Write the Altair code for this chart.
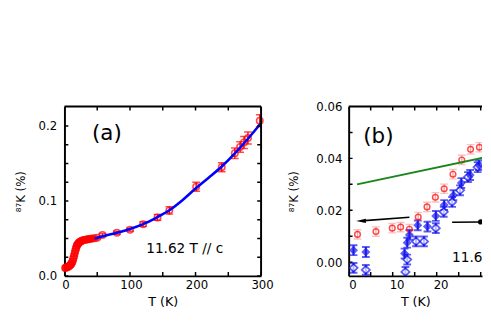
import altair as alt
import pandas as pd

FONT = "DejaVu Sans"
RED = "#ff0000"
PINK = "#f4a8a8"
BLUE = "#0000ff"
BLUE_B = "#1a1aee"
GREEN = "#1a861a"

# ---------------- panel (a) data ----------------
a_T_low = [1, 2, 3, 4, 5, 6, 7, 8, 9, 10, 11, 12, 13, 14, 15, 16, 17, 18, 19, 20,
           21, 22, 23, 24, 25, 26, 28, 30, 32, 34, 36, 38, 40, 43, 46, 50]
a_K_low = [0.0105, 0.011, 0.0113, 0.0117, 0.012, 0.0125, 0.013, 0.0137, 0.0145, 0.0155,
           0.017, 0.019, 0.0215, 0.0245, 0.028, 0.0315, 0.035, 0.038, 0.0405, 0.042,
           0.0432, 0.0441, 0.0448, 0.0455, 0.0462, 0.0467, 0.0474, 0.0478, 0.0482, 0.0485,
           0.0488, 0.0491, 0.0494, 0.0498, 0.0502, 0.0508]
a_err_low = [0.0015] * len(a_T_low)

a_T_high = [58, 80, 100, 120, 142, 160, 201, 240, 260, 268, 274, 280, 298]
a_K_high = [0.0545, 0.0575, 0.0615, 0.069, 0.078, 0.0874, 0.119, 0.145, 0.1636, 0.172,
            0.178, 0.184, 0.207]
a_err_high = [0.002, 0.002, 0.002, 0.003, 0.004, 0.005, 0.006, 0.006, 0.007, 0.007,
              0.008, 0.008, 0.008]

a_fit_T = [46, 60, 80, 100, 120, 140, 160, 180, 200, 220, 240, 260, 280, 300]
a_fit_K = [0.0497, 0.0533, 0.0575, 0.0625, 0.069, 0.0775, 0.0875, 0.101, 0.1165, 0.131,
           0.146, 0.1635, 0.183, 0.204]

a_x_ticks = [0, 50, 100, 150, 200, 250, 300]
a_y_ticks = [0.0, 0.025, 0.05, 0.075, 0.1, 0.125, 0.15, 0.175, 0.2]
a_x_labels = [0, 100, 200, 300]
a_y_labels = [0.0, 0.1, 0.2]

# ---------------- panel (b) data ----------------
b_red_T = [2.0, 6.2, 9.9, 11.8, 13.8, 15.8, 17.8, 19.7, 21.7, 23.7, 25.7, 27.7, 29.7]
b_red_K = [0.0107, 0.0118, 0.0131, 0.0135, 0.0127, 0.0174, 0.0213, 0.025, 0.0283,
           0.0339, 0.0394, 0.0435, 0.0443]
b_red_err = [0.0018] * len(b_red_T)

b_fill_T = [1.1, 3.9, 12.7, 13.3, 13.8, 15.7, 17.9, 19.8, 21.7, 23.8, 25.6, 27.6, 29.6]
b_fill_K = [0.0046, 0.0039, 0.0033, 0.0075, 0.0105, 0.0142, 0.0137, 0.0178, 0.022,
            0.0258, 0.0305, 0.0336, 0.0374]
b_fill_err = [0.0019] * len(b_fill_T)

b_open_T = [1.1, 3.9, 12.9, 13.3, 15.3, 17.1, 19.8, 21.6, 23.5, 25.3, 27.1, 29.3]
b_open_K = [-0.0022, -0.003, -0.0038, 0.001, 0.008, 0.008, 0.0131, 0.0194, 0.0232,
            0.0277, 0.0328, 0.0366]
b_open_err = [0.0019] * len(b_open_T)

b_green_T = [1.9, 30.6]
b_green_K = [0.0300, 0.0403]

b_arrowL_T = [13.8, 2.8]
b_arrowL_K = [0.0173, 0.0159]
b_arrowR_T = [23.5, 30.0]
b_arrowR_K = [0.0154, 0.0155]

b_x_ticks = [0, 5, 10, 15, 20, 25, 30]
b_y_ticks = [0.0, 0.01, 0.02, 0.03, 0.04, 0.05]
b_x_labels = [0, 10, 20]
b_y_labels = [0.0, 0.02, 0.04, 0.06]

FIELD_LABEL = "11.62 T // c"

W_A, W_B, H = 202, 137, 174
TL = 4  # inward tick length


def x_axis(values, loff):
    return alt.Axis(values=values, format="d", title="T (K)", ticks=False, grid=False,
                    domain=True, domainColor="black", domainWidth=2, labelPadding=4,
                    labelFlush=False, labelOffset=loff,
                    labelFontSize=12, titleFontSize=13, titlePadding=5,
                    labelColor="black", titleColor="black", titleFontWeight="normal",
                    labelFont=FONT, titleFont=FONT)


def y_axis(values, fmt, tpad, lpad):
    return alt.Axis(values=values, format=fmt, title="⁸⁷K (%)", ticks=False, grid=False,
                    domain=True, domainColor="black", domainWidth=2, labelPadding=lpad,
                    labelFlush=False,
                    labelFontSize=12, titleFontSize=12, titlePadding=tpad,
                    labelColor="black", titleColor="black", titleFontWeight="normal",
                    labelFont=FONT, titleFont=FONT)


class Pan:
    def __init__(self, xs, ys, xax, yax):
        self.xs, self.ys, self.xax, self.yax = xs, ys, xax, yax

    def X(self, f):
        return alt.X(f, scale=self.xs, axis=self.xax)

    def Y(self, f):
        return alt.Y(f, scale=self.ys, axis=self.yax)


def frame_layers(p, xvals, yvals, W, right_side):
    layers = []
    tx = pd.DataFrame({"v": xvals})
    ty = pd.DataFrame({"v": yvals})
    rule = dict(color="black", strokeWidth=1.5, clip=True)
    layers.append(alt.Chart(tx).mark_rule(**rule).encode(
        x=p.X("v:Q"), y=alt.value(H), y2=alt.value(H - TL)))
    layers.append(alt.Chart(tx).mark_rule(**rule).encode(
        x=p.X("v:Q"), y=alt.value(0), y2=alt.value(TL)))
    layers.append(alt.Chart(ty).mark_rule(**rule).encode(
        y=p.Y("v:Q"), x=alt.value(0), x2=alt.value(TL)))
    layers.append(alt.Chart(tx.head(1)).mark_rule(color="black", strokeWidth=2).encode(
        x=alt.value(0), x2=alt.value(W), y=alt.value(0)))
    if right_side:
        layers.append(alt.Chart(ty).mark_rule(**rule).encode(
            y=p.Y("v:Q"), x=alt.value(W), x2=alt.value(W - TL)))
        layers.append(alt.Chart(tx.head(1)).mark_rule(color="black", strokeWidth=2).encode(
            x=alt.value(W), y=alt.value(0), y2=alt.value(H)))
    return layers


def err_layers(p, T, K, E, color, cap, width=1.4):
    df = pd.DataFrame({"T": T, "lo": [k - e for k, e in zip(K, E)],
                       "hi": [k + e for k, e in zip(K, E)]})
    caps = pd.DataFrame({"T": list(T) * 2, "c": list(df["lo"]) + list(df["hi"])})
    bars = alt.Chart(df).mark_rule(color=color, strokeWidth=width, clip=True).encode(
        x=p.X("T:Q"), y=p.Y("lo:Q"), y2="hi:Q")
    tk = alt.Chart(caps).mark_tick(orient="horizontal", size=cap, thickness=width,
                                   color=color, clip=True).encode(
        x=p.X("T:Q"), y=p.Y("c:Q"))
    return [bars, tk]


def text_layer(p, x, y, t, size, clip=False):
    return alt.Chart(pd.DataFrame({"T": [x], "K": [y], "t": [t]})).mark_text(
        align="left", baseline="middle", fontSize=size, font=FONT, color="black",
        clip=clip).encode(x=p.X("T:Q"), y=p.Y("K:Q"), text="t:N")


def lin(domain):
    return alt.Scale(domain=domain, nice=False, zero=False, padding=0)


# ---------------- panel (a) ----------------
pa = Pan(lin([0, 300]), lin([0, 0.226]),
         x_axis(a_x_labels, 1), y_axis(a_y_labels, ".1f", 11, 8))

a_T = a_T_low + a_T_high
a_K = a_K_low + a_K_high
a_E = a_err_low + a_err_high

a_pts = alt.Chart(pd.DataFrame({"T": a_T, "K": a_K})).mark_point(
    shape="circle", filled=False, color=RED, size=44, strokeWidth=1.6).encode(
    x=pa.X("T:Q"), y=pa.Y("K:Q"))

a_fit = alt.Chart(pd.DataFrame({"T": a_fit_T, "K": a_fit_K})).mark_line(
    color=BLUE, strokeWidth=2.6, interpolate="monotone").encode(
    x=pa.X("T:Q"), y=pa.Y("K:Q"))

panel_a = alt.layer(
    a_pts,
    *err_layers(pa, a_T, a_K, a_E, RED, 8),
    a_fit,
    text_layer(pa, 42, 0.191, "(a)", 22),
    text_layer(pa, 124.8, 0.0351, FIELD_LABEL, 14),
    *frame_layers(pa, a_x_ticks, a_y_ticks, W_A, True),
).properties(width=W_A, height=H)

# ---------------- panel (b) ----------------
pb = Pan(lin([0, 30.3]), lin([-0.0053, 0.06]),
         x_axis(b_x_labels, 4), y_axis(b_y_labels, ".2f", 16, 7))

b_red = alt.Chart(pd.DataFrame({"T": b_red_T, "K": b_red_K})).mark_point(
    shape="circle", filled=False, color=RED, size=34, strokeWidth=1.5, clip=True).encode(
    x=pb.X("T:Q"), y=pb.Y("K:Q"))

b_fill = alt.Chart(pd.DataFrame({"T": b_fill_T, "K": b_fill_K})).mark_point(
    shape="diamond", filled=True, color=BLUE_B, size=85, clip=True).encode(
    x=pb.X("T:Q"), y=pb.Y("K:Q"))

b_open = alt.Chart(pd.DataFrame({"T": b_open_T, "K": b_open_K})).mark_point(
    shape="diamond", filled=True, fill="white", stroke=BLUE_B, strokeWidth=1.8,
    size=70, clip=True).encode(
    x=pb.X("T:Q"), y=pb.Y("K:Q"))

b_green = alt.Chart(pd.DataFrame({"T": b_green_T, "K": b_green_K})).mark_line(
    color=GREEN, strokeWidth=2, clip=True).encode(x=pb.X("T:Q"), y=pb.Y("K:Q"))

b_arrL = alt.Chart(pd.DataFrame({"T": b_arrowL_T, "K": b_arrowL_K})).mark_line(
    color="black", strokeWidth=1.6, clip=True).encode(x=pb.X("T:Q"), y=pb.Y("K:Q"))
b_headL = alt.Chart(pd.DataFrame({"T": b_arrowL_T[-1:], "K": b_arrowL_K[-1:]})).mark_point(
    shape="M1,-0.45L-1,0L1,0.45Z", filled=True, color="black", size=100, opacity=1,
    clip=True).encode(x=pb.X("T:Q"), y=pb.Y("K:Q"))
b_arrR = alt.Chart(pd.DataFrame({"T": b_arrowR_T, "K": b_arrowR_K})).mark_line(
    color="black", strokeWidth=1.6, clip=True).encode(x=pb.X("T:Q"), y=pb.Y("K:Q"))
b_dotR = alt.Chart(pd.DataFrame({"T": b_arrowR_T[-1:], "K": b_arrowR_K[-1:]})).mark_point(
    shape="circle", filled=True, color="black", size=30, opacity=1, clip=True).encode(
    x=pb.X("T:Q"), y=pb.Y("K:Q"))

panel_b = alt.layer(
    *err_layers(pb, b_red_T, b_red_K, b_red_err, PINK, 8),
    *err_layers(pb, b_fill_T, b_fill_K, b_fill_err, BLUE_B, 8, 2),
    *err_layers(pb, b_open_T, b_open_K, b_open_err, BLUE_B, 8, 2),
    b_red, b_open, b_fill, b_green, b_arrL, b_headL, b_arrR, b_dotR,
    text_layer(pb, 3.3, 0.0487, "(b)", 22, True),
    text_layer(pb, 23.5, 0.0017, FIELD_LABEL, 14, True),
    *frame_layers(pb, b_x_ticks, b_y_ticks, W_B, False),
).properties(width=W_B, height=H)

chart = alt.hconcat(panel_a, panel_b, spacing=90, bounds="flush").properties(
    padding={"left": 6, "top": 91, "right": 0, "bottom": 4},
    background="white",
).configure_view(strokeWidth=0)

chart.save("out.html", embed_options={"renderer": "svg", "actions": False})
